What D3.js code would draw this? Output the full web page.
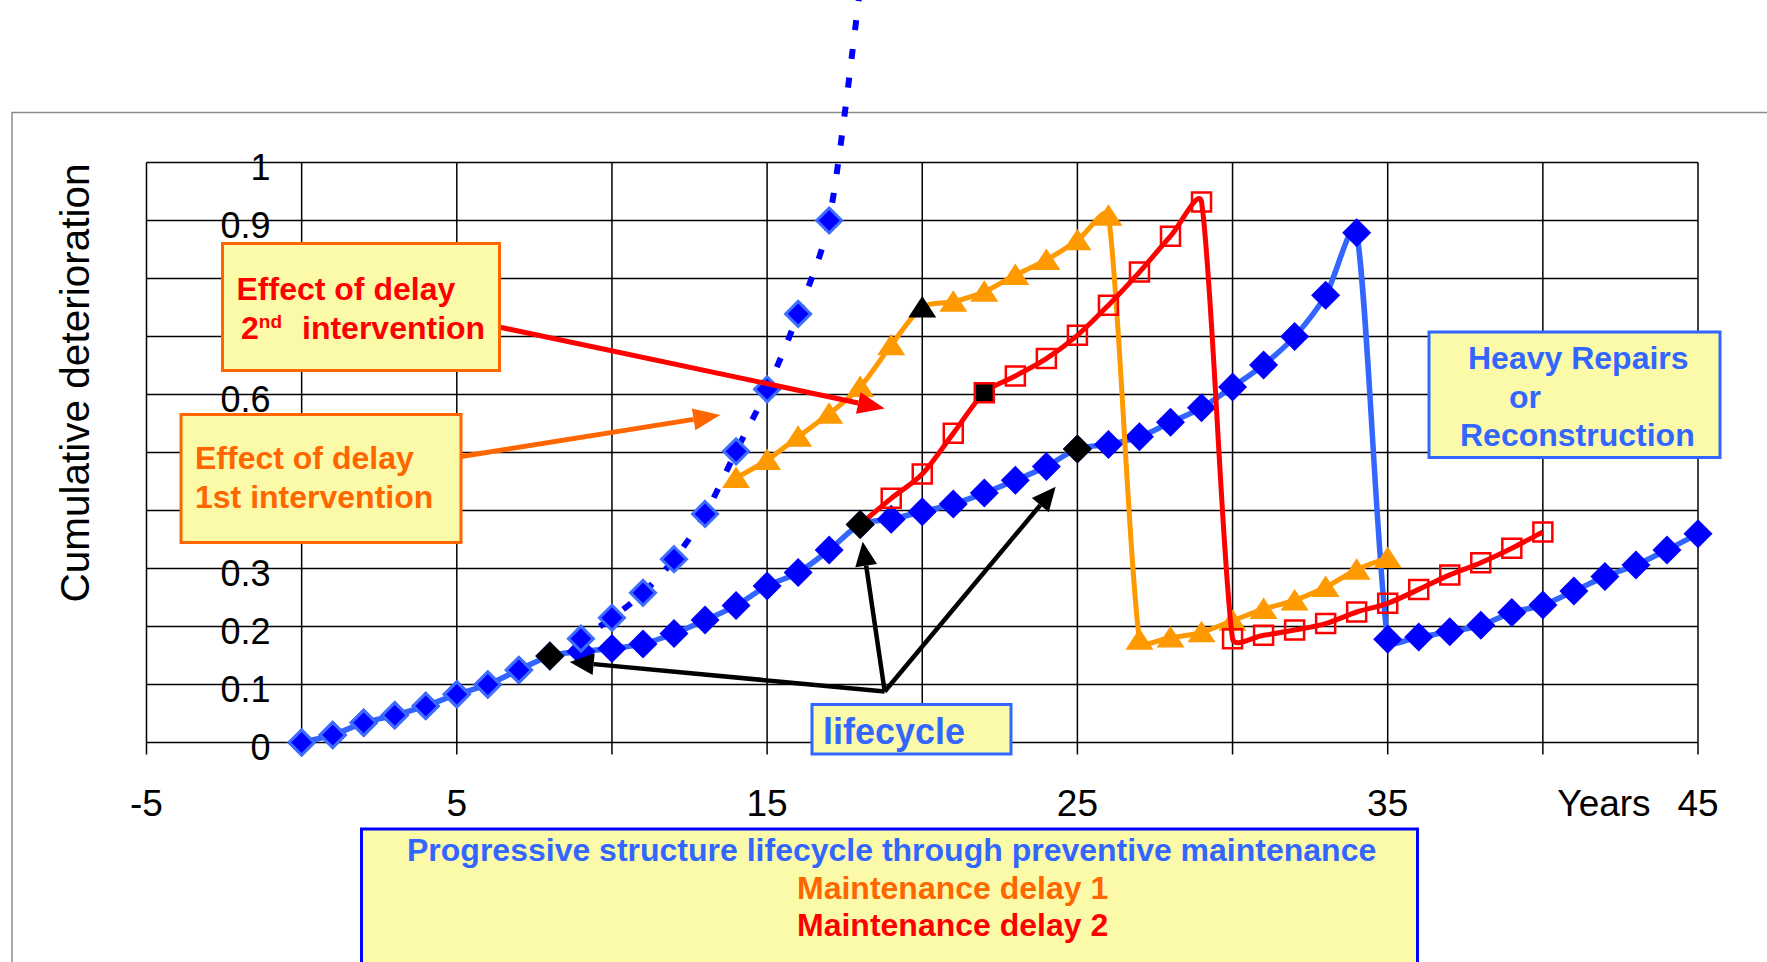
<!DOCTYPE html>
<html>
<head>
<meta charset="utf-8">
<script src="https://cdn.jsdelivr.net/npm/d3@7"></script>
<style>
  html, body { margin: 0; padding: 0; background: #ffffff; }
  svg { display: block; font-family: "Liberation Sans", Arial, Helvetica, sans-serif; }
</style>
</head>
<body>
<script>
// ---------------- data ----------------
const mainYears = d3.range(0, 46);
const mainValues = [0.000,0.013,0.034,0.047,0.063,0.083,0.100,0.125,0.149,0.157,
                    0.162,0.170,0.188,0.211,0.236,0.270,0.293,0.332,0.376,0.385,
                    0.398,0.411,0.430,0.452,0.476,0.506,0.514,0.527,0.552,0.577,
                    0.613,0.651,0.700,0.771,0.879,0.178,0.182,0.191,0.202,0.224,
                    0.237,0.261,0.286,0.306,0.332,0.360];

const noMaintYears = d3.range(0, 19);
const noMaintValues = [0.000,0.013,0.034,0.047,0.063,0.083,0.100,0.125,0.149,
                       0.179,0.215,0.258,0.316,0.394,0.502,0.609,0.739,0.900,1.300];

const delay1Years = d3.range(14, 36);
const delay1Values = [0.456,0.487,0.527,0.567,0.613,0.685,0.750,0.760,0.777,0.806,0.832,0.866,0.908,
                      0.177,0.181,0.190,0.210,0.230,0.245,0.268,0.298,0.318];

const delay2Years = d3.range(18, 41);
const delay2Values = [0.376,0.421,0.463,0.533,0.603,0.632,0.662,0.702,0.754,0.811,0.873,0.932,
                      0.179,0.185,0.194,0.205,0.225,0.240,0.264,0.289,0.310,0.335,0.363];

const interventionMainYears = [8, 18, 25];
const interventionDelay1Years = [20];
const interventionDelay2Years = [22];

const xGridValues = d3.range(-5, 46, 5);
const xTickValues = [-5, 5, 15, 25, 35, 45];
const xTickLabels = ["-5", "5", "15", "25", "35", "45"];
const yTickValues = d3.range(0, 11).map(i => i / 10);
const yTickLabels = ["0","0.1","0.2","0.3","0.4","0.5","0.6","0.7","0.8","0.9","1"];

const legendLines = ["Progressive structure lifecycle through preventive maintenance",
                     "Maintenance delay 1", "Maintenance delay 2"];

// ---------------- setup ----------------
const W = 1767, H = 962;
const svg = d3.select("body").append("svg").attr("width", W).attr("height", H);
const X = d3.scaleLinear().domain([-5, 45]).range([146.5, 1698]);
const Y = d3.scaleLinear().domain([0, 1]).range([742.5, 162.5]);

const BLUE_LINE = "#3366FF", BLUE = "#0000FF", ORANGE = "#FF9900", ORANGE_T = "#FF6600", RED = "#FF0000";
const BOX_FILL = "#FAFAA8";

// chart area border
svg.append("path").attr("d", "M12,962 L12,112.5 L1767,112.5")
  .attr("fill", "none").attr("stroke", "#8a8a8a").attr("stroke-width", 1.5);

// grid
const grid = svg.append("g").attr("stroke", "#000").attr("stroke-width", 1.5);
grid.selectAll("line.v").data(xGridValues).join("line").attr("class", "v")
  .attr("x1", d => X(d)).attr("x2", d => X(d))
  .attr("y1", Y(1)).attr("y2", Y(0) + 12);
grid.selectAll("line.h").data(yTickValues).join("line").attr("class", "h")
  .attr("x1", X(-5)).attr("x2", X(45))
  .attr("y1", d => Y(d)).attr("y2", d => Y(d));

// y labels
svg.append("g").selectAll("text").data(yTickValues).join("text")
  .attr("x", X(0) - 31).attr("y", d => Y(d) + 17)
  .attr("text-anchor", "end").attr("font-size", 36).attr("fill", "#000")
  .text((d, i) => yTickLabels[i]);

// x labels
svg.append("g").selectAll("text").data(xTickValues).join("text")
  .attr("x", d => X(d)).attr("y", 816)
  .attr("text-anchor", "middle").attr("font-size", 37).attr("fill", "#000")
  .text((d, i) => xTickLabels[i]);
svg.append("text").attr("x", 1604).attr("y", 816).attr("text-anchor", "middle")
  .attr("font-size", 37).attr("fill", "#000").text("Years");

// y title
svg.append("text").attr("transform", "translate(89,383) rotate(-90)")
  .attr("text-anchor", "middle").attr("font-size", 40.5).attr("fill", "#000")
  .text("Cumulative deterioration");

// ---------------- series ----------------
// Excel-like smoothing: Catmull-Rom tangents, limited to a third of each chord
function smooth(pts) {
  const p = d3.path();
  p.moveTo(pts[0][0], pts[0][1]);
  const clamp = (v, lim) => {
    const l = Math.hypot(v[0], v[1]);
    return l > lim ? [v[0] * lim / l, v[1] * lim / l] : v;
  };
  for (let i = 0; i < pts.length - 1; i++) {
    const P0 = pts[Math.max(0, i - 1)], P1 = pts[i], P2 = pts[i + 1], P3 = pts[Math.min(pts.length - 1, i + 2)];
    const lim = Math.hypot(P2[0] - P1[0], P2[1] - P1[1]) / 3;
    const t1 = clamp([(P2[0] - P0[0]) / 6, (P2[1] - P0[1]) / 6], lim);
    const t2 = clamp([(P3[0] - P1[0]) / 6, (P3[1] - P1[1]) / 6], lim);
    p.bezierCurveTo(P1[0] + t1[0], P1[1] + t1[1], P2[0] - t2[0], P2[1] - t2[1], P2[0], P2[1]);
  }
  return p.toString();
}
const line = data => smooth(data.map(d => [X(d[0]), Y(d[1])]));
const zip = (xs, ys) => xs.map((x, i) => [x, ys[i]]);

const mainPts = zip(mainYears, mainValues);
const noMaintPts = zip(noMaintYears, noMaintValues);
const d1Pts = zip(delay1Years, delay1Values);
const d2Pts = zip(delay2Years, delay2Values);

const diamond = r => `M0,${-r}L${r},0L0,${r}L${-r},0Z`;
const tri = "M0,-11.5L14,10L-14,10Z";
const sq = "M-9.5,-9.5H9.5V9.5H-9.5Z";

// main lifecycle
svg.append("path").attr("d", line(mainPts)).attr("fill", "none")
  .attr("stroke", BLUE_LINE).attr("stroke-width", 5.5).attr("stroke-linejoin", "round");
svg.append("g").selectAll("path").data(mainPts).join("path")
  .attr("transform", d => `translate(${X(d[0])},${Y(d[1])})`)
  .attr("d", diamond(14.5)).attr("fill", BLUE);

// no maintenance (dotted)
const nmLinePts = noMaintPts.filter(d => d[0] >= 8);
svg.append("path").attr("d", line(nmLinePts)).attr("fill", "none")
  .attr("stroke", BLUE).attr("stroke-width", 6).attr("stroke-dasharray", "10,19");
svg.append("g").selectAll("path").data(noMaintPts.filter(d => d[1] <= 1)).join("path")
  .attr("transform", d => `translate(${X(d[0])},${Y(d[1])})`)
  .attr("d", diamond(12.5)).attr("fill", BLUE).attr("stroke", "#3D6EFF").attr("stroke-width", 3);

// delay 1 (orange)
svg.append("path").attr("d", line(d1Pts)).attr("fill", "none")
  .attr("stroke", ORANGE).attr("stroke-width", 5).attr("stroke-linejoin", "round");
svg.append("g").selectAll("path").data(d1Pts).join("path")
  .attr("transform", d => `translate(${X(d[0])},${Y(d[1])})`)
  .attr("d", tri)
  .attr("fill", d => interventionDelay1Years.includes(d[0]) ? "#000" : ORANGE);

// delay 2 (red)
svg.append("path").attr("d", line(d2Pts)).attr("fill", "none")
  .attr("stroke", RED).attr("stroke-width", 5).attr("stroke-linejoin", "round");
svg.append("g").selectAll("path").data(d2Pts.slice(1)).join("path")
  .attr("transform", d => `translate(${X(d[0])},${Y(d[1])})`)
  .attr("d", sq)
  .attr("fill", d => interventionDelay2Years.includes(d[0]) ? "#000" : "none")
  .attr("stroke", RED).attr("stroke-width", 2.5);

// intervention points on lifecycle
svg.append("g").selectAll("path").data(mainPts.filter(d => interventionMainYears.includes(d[0]))).join("path")
  .attr("transform", d => `translate(${X(d[0])},${Y(d[1])})`)
  .attr("d", diamond(14.5)).attr("fill", "#000");

// ---------------- annotations ----------------
function arrow(x1, y1, x2, y2, color, w, hl, hw) {
  const a = Math.atan2(y2 - y1, x2 - x1);
  const bx = x2 - hl * Math.cos(a), by = y2 - hl * Math.sin(a);
  svg.append("line").attr("x1", x1).attr("y1", y1).attr("x2", bx).attr("y2", by)
    .attr("stroke", color).attr("stroke-width", w);
  const px = -Math.sin(a) * hw, py = Math.cos(a) * hw;
  svg.append("path").attr("d", `M${x2},${y2}L${bx + px},${by + py}L${bx - px},${by - py}Z`).attr("fill", color);
}

function box(x, y, w, h, stroke) {
  svg.append("rect").attr("x", x).attr("y", y).attr("width", w).attr("height", h)
    .attr("fill", BOX_FILL).attr("stroke", stroke).attr("stroke-width", 3);
}

// black arrows from "lifecycle"
const vtx = [X(18.79), Y(0.088)];
arrow(vtx[0], vtx[1], X(8.64), Y(0.139), "#000", 4.5, 24, 11);
arrow(vtx[0], vtx[1], X(18.08), Y(0.346), "#000", 4.5, 24, 11);
arrow(vtx[0], vtx[1], X(24.30), Y(0.441), "#000", 4.5, 24, 11);

// red arrow + box
arrow(499, 327, X(18.79), Y(0.5757), RED, 5, 27, 11);
box(222.5, 243.5, 277, 127, ORANGE_T);
svg.append("text").attr("x", 236.5).attr("y", 300).attr("font-size", 32).attr("font-weight", "bold")
  .attr("fill", RED).text("Effect of delay");
const t1b = svg.append("text").attr("font-size", 32).attr("font-weight", "bold").attr("fill", RED)
  .attr("x", 241).attr("y", 338.5);
t1b.append("tspan").text("2");
t1b.append("tspan").attr("font-size", 19).attr("dy", -11).text("nd");
t1b.append("tspan").attr("x", 302).attr("y", 338.5).text("intervention");

// orange arrow + box
arrow(461, 456.5, X(13.49), Y(0.5645), ORANGE_T, 5, 27, 11);
box(181, 414.5, 280, 128, ORANGE_T);
svg.append("text").attr("x", 195).attr("y", 469).attr("font-size", 32).attr("font-weight", "bold")
  .attr("fill", ORANGE_T).text("Effect of delay");
svg.append("text").attr("x", 195).attr("y", 508).attr("font-size", 32).attr("font-weight", "bold")
  .attr("fill", ORANGE_T).text("1st intervention");

// lifecycle box
box(812, 704.5, 199, 49.5, BLUE_LINE);
svg.append("text").attr("x", 823).attr("y", 744).attr("font-size", 36).attr("font-weight", "bold")
  .attr("fill", BLUE_LINE).text("lifecycle");

// heavy repairs box
box(1429, 332, 291, 125.5, BLUE_LINE);
svg.append("text").attr("x", 1468).attr("y", 369).attr("font-size", 32).attr("font-weight", "bold")
  .attr("fill", BLUE_LINE).text("Heavy Repairs");
svg.append("text").attr("x", 1509).attr("y", 407.5).attr("font-size", 32).attr("font-weight", "bold")
  .attr("fill", BLUE_LINE).text("or");
svg.append("text").attr("x", 1460).attr("y", 445.5).attr("font-size", 32).attr("font-weight", "bold")
  .attr("fill", BLUE_LINE).text("Reconstruction");

// legend box
svg.append("rect").attr("x", 361.5).attr("y", 829).attr("width", 1056).attr("height", 140)
  .attr("fill", BOX_FILL).attr("stroke", BLUE).attr("stroke-width", 3);
const legendColors = [BLUE_LINE, ORANGE_T, RED];
const legendX = [407, 797, 797];
const legendY = [861, 899, 936];
svg.append("g").selectAll("text").data(legendLines).join("text")
  .attr("x", (d, i) => legendX[i]).attr("y", (d, i) => legendY[i])
  .attr("font-size", 32).attr("font-weight", "bold")
  .attr("fill", (d, i) => legendColors[i]).text(d => d);
</script>
</body>
</html>
